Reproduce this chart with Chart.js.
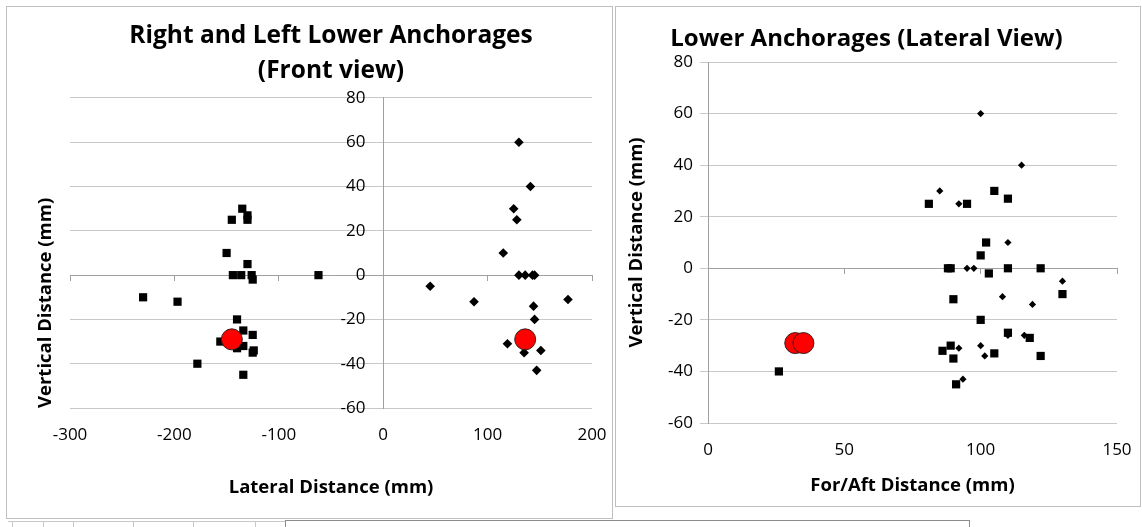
<!DOCTYPE html>
<html>
<head>
<meta charset="utf-8">
<title>Lower Anchorages</title>
<script src="https://cdn.jsdelivr.net/npm/chart.js@4.4.0/dist/chart.umd.min.js"></script>
<style>
  body { margin: 0; background: #fff; width: 1142px; height: 527px; overflow: hidden; position: relative; }
  .panel { position: absolute; border: 1px solid #bfbfbf; }
  #front { left: 6px; top: 6px; width: 605px; height: 511px; }
  #side { left: 615px; top: 6px; width: 524px; height: 499px; }
  .ruler { position: absolute; left: 8px; top: 521px; width: 277px; height: 8px; border-top: 1px solid #c8c8c8; }
  .ruler span { position: absolute; top: 0; width: 1px; height: 6px; background: #c8c8c8; }
  .nextbox { position: absolute; left: 285px; top: 520px; width: 683px; height: 12px; border: 1px solid #8c8c8c; }
</style>
</head>
<body>
<div class="panel" id="front"><canvas id="frontChart"></canvas></div>
<div class="panel" id="side"><canvas id="sideChart"></canvas></div>
<div class="ruler"><span style="left:4px"></span><span style="left:35px"></span><span style="left:65px"></span><span style="left:125px"></span><span style="left:185px"></span><span style="left:247px"></span></div>
<div class="nextbox"></div>
<script>
// front view: left anchorages (squares), right anchorages (diamonds), mean points (red)
const frontLeftX = [-135, -145, -130, -130, -150, -130, -144, -136, -126, -125, -62, -230, -197, -140, -134, -125, -156, -134, -140, -124, -125, -178, -134];
const frontLeftY = [30, 25, 27, 25, 10, 5, 0, 0, 0, -2, 0, -10, -12, -20, -25, -27, -30, -32, -33, -34, -35, -40, -45];
const frontRightX = [130, 141, 125, 128, 115, 130, 136, 143, 145, 45, 87, 177, 144, 145, 119, 135, 151, 147];
const frontRightY = [60, 40, 30, 25, 10, 0, 0, 0, 0, -5, -12, -11, -14, -20, -31, -35, -34, -43];
const frontMeanX = [-145, 136];
const frontMeanY = [-29, -29];

// lateral view
const sideSquareX = [81, 95, 105, 110, 102, 100, 88, 89, 103, 110, 122, 130, 90, 100, 110, 118, 86, 89, 90, 105, 122, 26, 91];
const sideSquareY = [25, 25, 30, 27, 10, 5, 0, 0, -2, 0, 0, -10, -12, -20, -25, -27, -32, -30, -35, -33, -34, -40, -45];
const sideDiamondX = [100, 115, 85, 92, 110, 95, 97.5, 130, 108, 119, 110, 116, 92, 100, 101.5, 93.5];
const sideDiamondY = [60, 40, 30, 25, 10, 0, 0, -5, -11, -14, -26, -26, -31, -30, -34, -43];
const sideMeanX = [32, 35];
const sideMeanY = [-29, -29];

const frontXTicks = [-300, -200, -100, 0, 100, 200];
const sideXTicks = [0, 50, 100, 150];
const yTicks = [-60, -40, -20, 0, 20, 40, 60, 80];

function pts(xs, ys) {
    return xs.map((x, i) => ({ x: x, y: ys[i] }));
}

const GRID = '#c8c8c8';
const AXIS = '#a0a0a0';
const HIDDEN = 'rgba(0,0,0,0)';

function meanSet(xs, ys) {
    return { data: pts(xs, ys), pointStyle: 'circle', pointRadius: 10.5, backgroundColor: '#ff0000', borderColor: '#3a1a1a', borderWidth: 1 };
}
function markSet(xs, ys, style, r) {
    return { data: pts(xs, ys), pointStyle: style, pointRadius: r, backgroundColor: '#000', borderColor: '#000', borderWidth: 0 };
}
function fixedTicks(list) {
    return s => { s.ticks = list.map(v => ({ value: v })); };
}

Chart.defaults.font.family = '"Open Sans", Lato, sans-serif';
Chart.defaults.color = '#000';

new Chart(document.getElementById('frontChart'), {
    type: 'scatter',
    data: {
        datasets: [
            meanSet(frontMeanX, frontMeanY),
            markSet(frontLeftX, frontLeftY, 'rect', 5.8),
            markSet(frontRightX, frontRightY, 'rectRot', 4.8)
        ]
    },
    options: {
        responsive: true,
        maintainAspectRatio: false,
        animation: false,
        events: [],
        layout: { padding: { left: 0, right: 20, top: 0, bottom: 0 } },
        plugins: {
            legend: { display: false },
            tooltip: { enabled: false },
            title: {
                display: true,
                fullSize: false,
                text: ['Right and Left Lower Anchorages', '(Front view)'],
                font: { size: 24.5, weight: 'bold', lineHeight: 1.416 },
                color: '#000',
                padding: { top: 12, bottom: 9.6 }
            }
        },
        scales: {
            x: {
                type: 'linear', position: 'bottom', min: -300, max: 200,
                afterBuildTicks: fixedTicks(frontXTicks),
                afterFit: s => { s.height = 110; },
                grid: { drawOnChartArea: false, tickLength: 15, tickColor: HIDDEN },
                border: { display: false },
                ticks: { font: { size: 17 }, padding: 2 },
                title: { display: true, text: 'Lateral Distance (mm)', font: { size: 18.5, weight: 'bold' }, padding: { top: 0, bottom: 19 } }
            },
            xZero: {
                type: 'linear', position: { y: 0 }, min: -300, max: 200,
                afterBuildTicks: fixedTicks(frontXTicks),
                grid: { drawOnChartArea: false, color: AXIS, tickLength: 5 },
                border: { display: true, color: AXIS },
                ticks: { display: false }
            },
            y: {
                type: 'linear', position: { x: 0 }, min: -60, max: 80,
                afterBuildTicks: fixedTicks(yTicks),
                grid: { color: GRID, tickLength: 6 },
                border: { display: true, color: AXIS },
                ticks: { display: false }
            },
            yLabels: {
                type: 'linear', position: { x: -17 }, min: -60, max: 80,
                afterBuildTicks: fixedTicks(yTicks),
                grid: { display: false },
                border: { display: false },
                ticks: { font: { size: 17 } }
            },
            yTitle: {
                type: 'linear', position: 'left', min: -60, max: 80,
                afterFit: s => { s.width = 63; },
                grid: { display: false },
                border: { display: false },
                ticks: { display: false },
                title: { display: true, align: 'start', text: 'Vertical Distance (mm)', font: { size: 18.5, weight: 'bold' }, padding: { top: 28, bottom: 0 } }
            }
        }
    }
});

new Chart(document.getElementById('sideChart'), {
    type: 'scatter',
    data: {
        datasets: [
            meanSet(sideMeanX, sideMeanY),
            markSet(sideSquareX, sideSquareY, 'rect', 5.8),
            markSet(sideDiamondX, sideDiamondY, 'rectRot', 3.6)
        ]
    },
    options: {
        responsive: true,
        maintainAspectRatio: false,
        animation: false,
        events: [],
        layout: { padding: { left: 0, right: 23, top: 0, bottom: 0 } },
        plugins: {
            legend: { display: false },
            tooltip: { enabled: false },
            title: {
                display: true,
                text: 'Lower Anchorages (Lateral View)',
                font: { size: 24, weight: 'bold', lineHeight: 1.2 },
                color: '#000',
                padding: { top: 18, bottom: 8.2 }
            }
        },
        scales: {
            x: {
                type: 'linear', position: 'bottom', min: 0, max: 150,
                afterBuildTicks: fixedTicks(sideXTicks),
                afterFit: s => { s.height = 83; },
                grid: { drawOnChartArea: false, tickLength: 14.5, tickColor: HIDDEN },
                border: { display: false },
                ticks: { font: { size: 17 }, padding: 2 },
                title: { display: true, text: 'For/Aft Distance (mm)', font: { size: 18.5, weight: 'bold' }, padding: { top: 0, bottom: 9 } }
            },
            xZero: {
                type: 'linear', position: { y: 0 }, min: 0, max: 150,
                afterBuildTicks: fixedTicks(sideXTicks),
                grid: { drawOnChartArea: false, color: AXIS, tickLength: 5 },
                border: { display: true, color: AXIS },
                ticks: { display: false }
            },
            y: {
                type: 'linear', position: 'left', min: -60, max: 80,
                afterBuildTicks: fixedTicks(yTicks),
                afterFit: s => { s.width = 92; },
                grid: { color: GRID, tickLength: 8 },
                border: { display: true, color: AXIS },
                ticks: { font: { size: 17 }, padding: 7 },
                title: { display: true, text: 'Vertical Distance (mm)', font: { size: 18.5, weight: 'bold' }, padding: { top: 10, bottom: 0 } }
            }
        }
    }
});
</script>
</body>
</html>
